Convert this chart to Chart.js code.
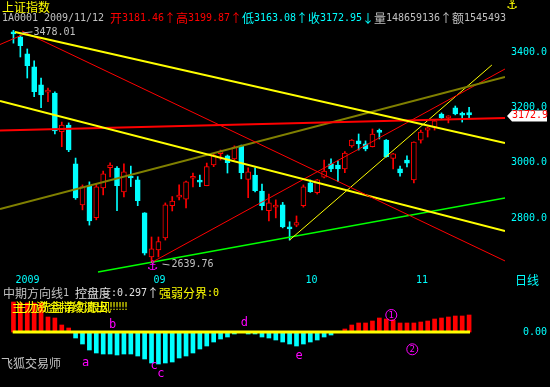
<!DOCTYPE html>
<html>
<head>
<meta charset="utf-8">
<script src="https://cdn.jsdelivr.net/npm/chart.js@4.4.1/dist/chart.umd.min.js"></script>
<style>
body { margin: 0; background: #000; width: 550px; height: 387px; overflow: hidden; position: relative; }
canvas { position: absolute; left: 0; }
#k { top: 0; }
#zb { top: 286px; }
</style>
</head>
<body>
<canvas id="k" width="550" height="290"></canvas>
<canvas id="zb" width="550" height="101"></canvas>
<script>
// 上证指数 日线 2009/08/04 - 2009/11/12
const opens  = [3473,3455,3393,3346,3281,3255,3252,3112,3136,2996,2848,2917,2802,2909,2982,2981,2895,2950,2938,2819,
                2660,2685,2729,2845,2876,2869,2944,2934,2917,2992,3033,3025,3014,3061,2940,2956,2898,2827,2840,2848,
                2769,2775,2845,2928,2892,2948,2996,2992,2978,3061,3079,3068,3058,3113,3082,3016,2978,3010,2938,3082,
                3118,3129,3176,3162,3198,3175,3181.46]
const highs  = [3478.01,3461,3411,3368,3306,3270,3256,3147,3144,3017,2920,2931,2924,2970,3000,2986,2996,2988,2950,2820,
                2732,2732,2855,2878,2920,2934,2963,2956,2999,3034,3046,3028,3061,3064,2982,2982,2923,2887,2866,2857,
                2787,2808,2920,2938,2940,3010,3014,3007,3040,3084,3104,3079,3122,3122,3084,3034,2988,3025,3076,3118,
                3129,3153,3180,3170,3205,3183,3199.87]
const lows   = [3432,3382,3306,3239,3199,3221,3104,3058,3040,2868,2830,2775,2794,2884,2949,2827,2877,2914,2845,2667,
                2639.76,2660,2721,2826,2866,2837,2913,2914,2917,2986,3010,2963,3010,2942,2874,2895,2830,2790,2801,2765,
                2721,2769,2840,2893,2887,2945,2968,2932,2964,3056,3046,3043,3057,3086,3020,2978,2952,2985,2927,3071,
                3093,3118,3160,3144,3173,3147,3163.08]
const closes = [3465,3423,3351,3257,3245,3260,3115,3136,3046,2873,2914,2790,2913,2960,2992,2917,2967,2945,2863,2674,
                2689,2715,2848,2862,2880,2931,2946,2930,2986,3028,3036,3000,3057,2964,2967,2899,2845,2855,2843,2768,
                2761,2784,2913,2896,2938,2970,2978,2978,3035,3082,3068,3050,3104,3110,3022,3032,2963,2999,3075,3111,
                3126,3151,3162,3169,3176,3172,3172.95]

const monthTicks = [1, 21, 43, 59]
const monthLabels = ['2009', '09', '10', '11']
const priceTicks = [2800, 3000, 3200, 3400]

// 中期方向线 柱状值
const zbValues = [3.0,2.9,2.9,2.9,2.9,1.5,1.4,0.7,0.4,
                  -0.6,-1.2,-1.8,-2.1,-2.2,-2.2,-2.3,-2.2,-2.2,-2.4,-2.7,-3.1,-3.2,-3.1,-3.0,-2.6,-2.4,-2.1,-1.7,
                  -1.4,-1.0,-0.7,-0.5,-0.2,-0.05,-0.2,-0.2,-0.5,-0.6,-0.8,-1.0,-1.2,-1.4,-1.2,-1.0,-0.8,-0.5,-0.3,
                  0,
                  0.3,0.7,0.9,0.9,1.1,1.4,1.3,1.2,0.9,0.9,0.9,1.0,1.1,1.3,1.4,1.5,1.6,1.6,1.7]

// 画线 (K线序号, 价格)
const trendLines = [
    { from: [1.22, 3472],   to: [72.2, 3071.5], color: '#ffff00', width: 2 },
    { from: [2.24, 3475.8], to: [72.2, 2645.5], color: '#ff0000', width: 1 },
    { from: [-0.95, 3427],  to: [2.82, 3467.5], color: '#ff0000', width: 1 },
    { from: [-0.95, 3223],  to: [72.2, 2753.8], color: '#ffff00', width: 2 },
    { from: [-0.95, 3116.6],to: [72.2, 3161.7], color: '#ff0000', width: 2 },
    { from: [-0.95, 2833.2],to: [72.2, 3309.7], color: '#808000', width: 2 },
    { from: [21, 2639.76],  to: [72.2, 3338.6], color: '#ff0000', width: 1 },
    { from: [41, 2721],     to: [70.3, 3353],   color: '#ffff00', width: 1 },
    { from: [13.25, 2605.8],to: [72.2, 2872.9], color: '#00ff00', width: 1.5 }
]

// 标注
const zbMarks = [
    { t: 'a', i: 11.46, v: -3.07 },
    { t: 'b', i: 15.38, v: 0.7 },
    { t: 'c', i: 21.36, v: -3.4 },
    { t: 'c', i: 22.37, v: -4.2 },
    { t: 'd', i: 34.44, v: 0.9 },
    { t: 'e', i: 42.36, v: -2.4 },
    { t: '1', i: 55.73, v: 1.7, ring: true },
    { t: '2', i: 58.77, v: -1.73, ring: true }
]

const cyan = '#00ffff'
const red = '#ff0000'
const yellow = '#ffff00'
const gray = '#c0c0c0'
const magenta = '#ff00ff'

const idx = opens.map((v, i) => i + 1)
const up = opens.map((o, i) => closes[i] >= o)

function drawRun(ctx, x, y, parts) {
    ctx.textBaseline = 'middle'
    ctx.textAlign = 'center'
    for (const [t, c] of parts) {
        ctx.fillStyle = c
        for (const ch of t) {
            const wide = ch.charCodeAt(0) > 0x2000
            ctx.font = wide ? '12px "Noto Sans CJK SC"' : '10px "DejaVu Sans Mono"'
            const w = wide ? 12 : 6
            ctx.fillText(ch, x + w / 2, y)
            x += w
        }
    }
    return x
}

function fixAxis(width) {
    return function (s) {
        s.width = width
        s.paddingTop = 0
        s.paddingBottom = 0
    }
}

const noGrid = { display: false, drawTicks: false, tickLength: 0 }

const kText = {
    id: 'kText',
    afterDraw(chart) {
        const ctx = chart.ctx
        const xs = chart.scales.x
        const ys = chart.scales.y
        ctx.save()
        drawRun(ctx, 2, 7, [['上证指数', yellow]])
        const last = opens.length - 1
        drawRun(ctx, 2, 18, [
            ['1A0001 2009/11/12 ', gray],
            ['开' + opens[last].toFixed(2) + '↑高' + highs[last].toFixed(2) + '↑', red],
            ['低' + lows[last].toFixed(2) + '↑收' + closes[last].toFixed(2) + '↓', cyan],
            ['量148659136↑额1545493', gray]
        ])

        // 最高价
        const hi = highs.indexOf(Math.max(...highs))
        const hx = xs.getPixelForValue(hi + 1)
        const hy = ys.getPixelForValue(highs[hi])
        ctx.strokeStyle = gray
        ctx.lineWidth = 1
        ctx.beginPath()
        ctx.moveTo(hx + 9, hy + 2.5)
        ctx.lineTo(hx + 19, hy + 1.5)
        ctx.stroke()
        drawRun(ctx, hx + 20, hy + 2, [[highs[hi].toFixed(2), gray]])

        // 最低价
        const lo = lows.indexOf(Math.min(...lows))
        const lx = xs.getPixelForValue(lo + 1)
        const ly = ys.getPixelForValue(lows[lo])
        ctx.beginPath()
        ctx.moveTo(lx + 11, ly + 1.5)
        ctx.lineTo(lx + 18, ly + 2.5)
        ctx.stroke()
        drawRun(ctx, lx + 20, ly + 2, [[lows[lo].toFixed(2), gray]])

        ctx.font = '13px "DejaVu Sans"'
        ctx.textAlign = 'center'
        ctx.textBaseline = 'middle'
        ctx.fillStyle = magenta
        ctx.fillText('⚓', lx + 1, ly + 4)
        ctx.fillStyle = yellow
        ctx.fillText('⚓', 512, 6)

        // 现价标签
        const py = ys.getPixelForValue(closes[last]) + 1
        const bx = chart.chartArea.right + 2
        ctx.fillStyle = '#ffffff'
        ctx.beginPath()
        ctx.moveTo(bx, py)
        ctx.lineTo(bx + 5, py - 5.5)
        ctx.lineTo(bx + 40, py - 5.5)
        ctx.lineTo(bx + 40, py + 5.5)
        ctx.lineTo(bx + 5, py + 5.5)
        ctx.closePath()
        ctx.fill()
        drawRun(ctx, bx + 5, py, [[closes[last].toFixed(1), red]])

        drawRun(ctx, 515, 280, [['日线', cyan]])
        ctx.restore()
    }
}

const zbText = {
    id: 'zbText',
    afterDraw(chart) {
        const ctx = chart.ctx
        const xs = chart.scales.x
        const ys = chart.scales.y
        ctx.save()
        drawRun(ctx, 3, 7, [['中期方向线1 ', gray], ['控盘度:0.297↑', '#e0e0e0'], ['强弱分界:0', yellow]])
        drawRun(ctx, 12, 21, [['主力资金持续流出!!!', yellow]])
        drawRun(ctx, 15, 21, [['主力洗盘请勿跟风!!!', yellow]])
        drawRun(ctx, 1, 77, [['飞狐交易师', gray]])

        for (const m of zbMarks) {
            const x = xs.getPixelForValue(m.i)
            const y = ys.getPixelForValue(m.v)
            ctx.fillStyle = magenta
            ctx.textAlign = 'center'
            ctx.textBaseline = 'middle'
            if (m.ring) {
                ctx.strokeStyle = magenta
                ctx.lineWidth = 1
                ctx.beginPath()
                ctx.arc(x, y, 5.5, 0, Math.PI * 2)
                ctx.stroke()
                ctx.font = '9px "DejaVu Sans Mono"'
                ctx.fillText(m.t, x, y + 0.5)
            } else {
                ctx.font = '12px "DejaVu Sans Mono"'
                ctx.fillText(m.t, x, y)
            }
        }
        ctx.restore()
    }
}

function criarK() {
    const ctx = document.getElementById('k').getContext('2d')

    const lineSets = trendLines.map(l => ({
        type: 'line',
        data: [{ x: l.from[0], y: l.from[1] }, { x: l.to[0], y: l.to[1] }],
        borderColor: l.color,
        borderWidth: l.width,
        pointRadius: 0,
        tension: 0,
        fill: false,
        clip: { left: 10, right: 0, top: 0, bottom: 0 },
        order: 0
    }))

    new Chart(ctx, {
        type: 'bar',
        data: {
            datasets: [
                {
                    data: idx.map((d, i) => ({ x: d, y: [lows[i], highs[i]] })),
                    backgroundColor: c => up[c.dataIndex] ? red : cyan,
                    barThickness: 1,
                    grouped: false,
                    order: 3
                },
                {
                    data: idx.map((d, i) => ({ x: d, y: [opens[i], closes[i]] })),
                    backgroundColor: c => up[c.dataIndex] ? '#000000' : cyan,
                    borderColor: c => up[c.dataIndex] ? red : cyan,
                    borderWidth: 1,
                    borderSkipped: false,
                    minBarLength: 2,
                    barThickness: 5,
                    grouped: false,
                    order: 2
                },
                ...lineSets
            ]
        },
        options: {
            responsive: false,
            animation: false,
            devicePixelRatio: 1,
            events: [],
            layout: { padding: { left: 10, top: 22, right: 0, bottom: 0 } },
            plugins: { legend: { display: false }, tooltip: { enabled: false } },
            scales: {
                x: {
                    type: 'linear',
                    min: 0.5,
                    max: 72.2,
                    offset: false,
                    grid: noGrid,
                    border: { display: false },
                    afterBuildTicks: s => { s.ticks = monthTicks.map(v => ({ value: v + 0.3 })) },
                    afterFit: s => { s.height = 17 },
                    ticks: {
                        color: cyan,
                        font: { family: '"DejaVu Sans Mono"', size: 10 },
                        padding: 1,
                        align: 'start',
                        autoSkip: false,
                        maxRotation: 0,
                        callback: (v, i) => monthLabels[i]
                    }
                },
                y: {
                    position: 'right',
                    min: 2602,
                    max: 3508.3,
                    beginAtZero: false,
                    grid: noGrid,
                    border: { display: false },
                    afterBuildTicks: s => { s.ticks = priceTicks.map(v => ({ value: v })) },
                    afterFit: fixAxis(45),
                    ticks: {
                        color: cyan,
                        font: { family: '"DejaVu Sans Mono"', size: 10 },
                        padding: 6,
                        callback: v => Number(v).toFixed(1)
                    }
                }
            }
        },
        plugins: [kText]
    })
}

function criarZb() {
    const ctx = document.getElementById('zb').getContext('2d')

    new Chart(ctx, {
        type: 'bar',
        data: {
            datasets: [
                {
                    data: idx.map((d, i) => ({ x: d, y: zbValues[i] })),
                    backgroundColor: c => zbValues[c.dataIndex] >= 0 ? red : cyan,
                    barThickness: 4,
                    grouped: false,
                    order: 2
                },
                {
                    type: 'line',
                    data: [{ x: 0.89, y: 0 }, { x: 67.13, y: 0 }],
                    borderColor: yellow,
                    borderWidth: 3,
                    pointRadius: 0,
                    order: 0
                }
            ]
        },
        options: {
            responsive: false,
            animation: false,
            devicePixelRatio: 1,
            events: [],
            layout: { padding: { left: 10, top: 10, right: 0, bottom: 7 } },
            plugins: { legend: { display: false }, tooltip: { enabled: false } },
            scales: {
                x: { type: 'linear', min: 0.5, max: 72.2, offset: false, display: false },
                y: {
                    position: 'right',
                    min: -4.8,
                    max: 3.6,
                    beginAtZero: false,
                    grid: noGrid,
                    border: { display: false },
                    afterBuildTicks: s => { s.ticks = [{ value: 0 }] },
                    afterFit: fixAxis(45),
                    ticks: {
                        color: cyan,
                        font: { family: '"DejaVu Sans Mono"', size: 10 },
                        padding: 18,
                        callback: v => Number(v).toFixed(2)
                    }
                }
            }
        },
        plugins: [zbText]
    })
}

criarK()
criarZb()
</script>
</body>
</html>
